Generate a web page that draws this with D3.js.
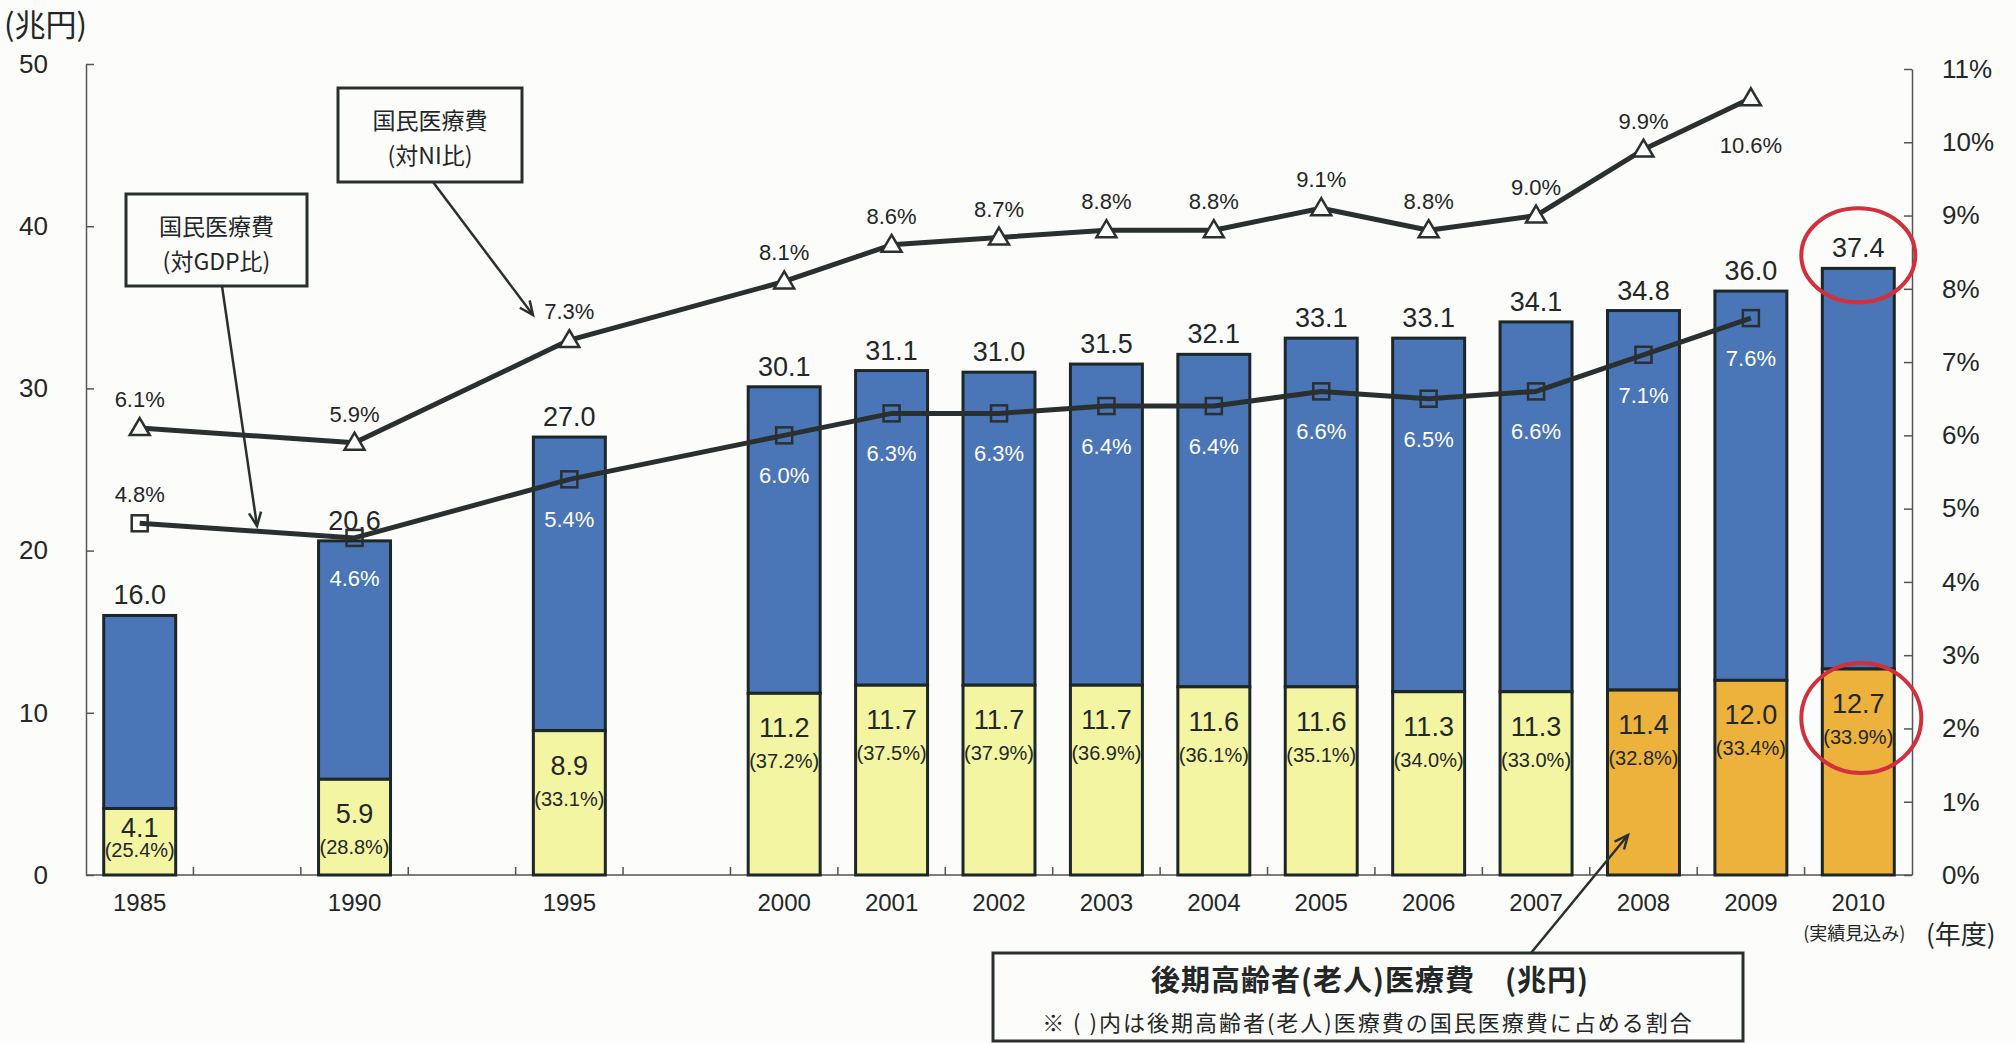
<!DOCTYPE html>
<html><head><meta charset="utf-8">
<script src="https://cdn.jsdelivr.net/npm/d3@7"></script>
<style>
html,body{margin:0;padding:0;background:#fcfcfa;}
svg{display:block;}
</style></head><body>
<svg id="chart" width="2016" height="1043"></svg>
<script>
// ---------------- data ----------------
const years = ["1985","1990","1995","2000","2001","2002","2003","2004","2005","2006","2007","2008","2009","2010"];
const totalCost   = [16.0,20.6,27.0,30.1,31.1,31.0,31.5,32.1,33.1,33.1,34.1,34.8,36.0,37.4];   // 国民医療費 (兆円)
const elderlyCost = [4.1,5.9,8.9,11.2,11.7,11.7,11.7,11.6,11.6,11.3,11.3,11.4,12.0,12.7];      // 後期高齢者(老人)医療費 (兆円)
const elderlyShare= [25.4,28.8,33.1,37.2,37.5,37.9,36.9,36.1,35.1,34.0,33.0,32.8,33.4,33.9];   // 割合 (%)
const elderlyScheme = ["老人","老人","老人","老人","老人","老人","老人","老人","老人","老人","老人","後期","後期","後期"];
const ratioGDP = [4.8,4.6,5.4,6.0,6.3,6.3,6.4,6.4,6.6,6.5,6.6,7.1,7.6,null];   // 対GDP比 (%)
const ratioNI  = [6.1,5.9,7.3,8.1,8.6,8.7,8.8,8.8,9.1,8.8,9.0,9.9,10.6,null];  // 対NI比 (%)
const leftTicks  = [0,10,20,30,40,50];
const rightTicks = [0,1,2,3,4,5,6,7,8,9,10,11];

// ---------------- setup ----------------
const FONT = '"Liberation Sans","Noto Sans CJK JP",sans-serif';
const CJK = '"Noto Sans CJK JP",sans-serif';
const INK = "#232727";
const svg = d3.select("#chart").attr("font-family", FONT);
svg.append("rect").attr("width",2016).attr("height",1043).attr("fill","#fcfcfa");

// slots: a blank slot after each year before 2000
const slots = [];
years.forEach(y => { slots.push(y); if (+y < 2000) slots.push("gap" + y); });

const plotL = 86, plotR = 1912, baseY = 875;
const x = d3.scaleBand().domain(slots).range([plotL, plotR]).paddingInner(0.33).paddingOuter(0.165);
const yL = d3.scaleLinear().domain([0,50]).range([baseY, 64]);
const yR = d3.scaleLinear().domain([0,11]).range([baseY, 69]);
const cx = y => x(y) + x.bandwidth()/2;

const rows = years.map((y,i) => ({year:y, total:totalCost[i], eld:elderlyCost[i], share:elderlyShare[i],
  scheme:elderlyScheme[i], gdp:ratioGDP[i], ni:ratioNI[i]}));

// ---------------- axes ----------------
const gL = svg.append("g").attr("transform",`translate(${plotL},0)`)
  .call(d3.axisLeft(yL).tickValues(leftTicks).tickSizeInner(-8).tickSizeOuter(0).tickPadding(38));
gL.attr("font-family", FONT).attr("font-size", 26);
gL.selectAll("text").attr("fill", INK);
gL.selectAll("line,path").attr("stroke","#555").attr("stroke-width",1.5);

const gR = svg.append("g").attr("transform",`translate(${plotR},0)`)
  .call(d3.axisRight(yR).tickValues(rightTicks).tickFormat(d => d + "%").tickSizeInner(-8).tickSizeOuter(0).tickPadding(30));
gR.attr("font-family", FONT).attr("font-size", 26);
gR.selectAll("text").attr("fill", INK);
gR.selectAll("line,path").attr("stroke","#555").attr("stroke-width",1.5);

// x axis baseline + boundary ticks
svg.append("line").attr("x1",plotL).attr("x2",plotR).attr("y1",baseY).attr("y2",baseY)
  .attr("stroke","#555").attr("stroke-width",1.5);
svg.append("g").selectAll("line").data(d3.range(1, slots.length)).join("line")
  .attr("x1", i => plotL + i*x.step()).attr("x2", i => plotL + i*x.step())
  .attr("y1", baseY).attr("y2", baseY-8).attr("stroke","#555").attr("stroke-width",1.5);

const gX = svg.append("g").attr("transform",`translate(0,${baseY})`)
  .call(d3.axisBottom(x).tickValues(years).tickSize(0).tickPadding(19));
gX.attr("font-family", FONT).attr("font-size", 24);
gX.select(".domain").remove();
gX.selectAll("text").attr("fill", INK);

svg.append("text").attr("x", cx("2010")-4).attr("y", 940).attr("text-anchor","middle")
  .attr("font-family", CJK).attr("font-size",18).attr("fill",INK).text("(実績見込み)");
svg.append("text").attr("x", 1926).attr("y", 944)
  .attr("font-family", CJK).attr("font-size",26).attr("fill",INK).text("(年度)");
svg.append("text").attr("x", 4).attr("y", 36)
  .attr("font-family", CJK).attr("font-size",31).attr("fill",INK).text("(兆円)");

// ---------------- bars ----------------
const colors = {"老人":"#f3f5a2", "後期":"#ecb23c"};
const BLUE = "#4a75b6", EDGE = "#1d2727";
const gBars = svg.append("g");
gBars.selectAll("rect.top").data(rows).join("rect").attr("class","top")
  .attr("x", d => x(d.year)).attr("width", x.bandwidth())
  .attr("y", d => yL(d.total)).attr("height", d => yL(d.eld) - yL(d.total))
  .attr("fill", BLUE).attr("stroke", EDGE).attr("stroke-width", 3);
gBars.selectAll("rect.bot").data(rows).join("rect").attr("class","bot")
  .attr("x", d => x(d.year)).attr("width", x.bandwidth())
  .attr("y", d => yL(d.eld)).attr("height", d => baseY - yL(d.eld))
  .attr("fill", d => colors[d.scheme]).attr("stroke", EDGE).attr("stroke-width", 3);

// total labels
svg.append("g").selectAll("text").data(rows).join("text")
  .attr("x", d => cx(d.year)).attr("y", d => yL(d.total) - 11)
  .attr("text-anchor","middle").attr("font-size",27).attr("fill",INK)
  .text(d => d.total.toFixed(1));

// elderly value & share labels
const valY = d => { let v = yL(d.eld) + 44; let s = v + 31; if (s > 857) { s = 857; v = Math.min(v, 837); } return {v, s}; };
svg.append("g").selectAll("text").data(rows).join("text")
  .attr("x", d => cx(d.year)).attr("y", d => valY(d).v)
  .attr("text-anchor","middle").attr("font-size",27).attr("fill",INK)
  .text(d => d.eld.toFixed(1));
svg.append("g").selectAll("text").data(rows).join("text")
  .attr("x", d => cx(d.year)).attr("y", d => valY(d).s)
  .attr("text-anchor","middle").attr("font-size",20).attr("fill",INK)
  .text(d => "(" + d.share.toFixed(1) + "%)");

// ---------------- lines ----------------
const LINE = "#2a3030";
const gdpPts = rows.filter(d => d.gdp != null);
const niPts  = rows.filter(d => d.ni != null);
svg.append("path").datum(gdpPts)
  .attr("d", d3.line().x(d => cx(d.year)).y(d => yR(d.gdp)))
  .attr("fill","none").attr("stroke",LINE).attr("stroke-width",5).attr("stroke-linejoin","round");
svg.append("path").datum(niPts)
  .attr("d", d3.line().x(d => cx(d.year)).y(d => yR(d.ni)))
  .attr("fill","none").attr("stroke",LINE).attr("stroke-width",5).attr("stroke-linejoin","round");

svg.append("g").selectAll("rect").data(gdpPts).join("rect")
  .attr("x", d => cx(d.year)-8).attr("y", d => yR(d.gdp)-8).attr("width",16).attr("height",16)
  .attr("fill","none").attr("stroke",LINE).attr("stroke-width",2.5);
svg.append("g").selectAll("path").data(niPts).join("path")
  .attr("transform", d => `translate(${cx(d.year)},${yR(d.ni)})`)
  .attr("d","M0,-10L10,7L-10,7Z")
  .attr("fill","#fcfcfa").attr("stroke",LINE).attr("stroke-width",2.5);

// line labels
svg.append("g").selectAll("text").data(gdpPts).join("text")
  .attr("x", d => cx(d.year)).attr("y", (d,i) => i === 0 ? yR(d.gdp) - 21 : yR(d.gdp) + 48)
  .attr("text-anchor","middle").attr("font-size",22)
  .attr("fill", (d,i) => i === 0 ? INK : "#ffffff")
  .text(d => d.gdp.toFixed(1) + "%");
svg.append("g").selectAll("text").data(niPts).join("text")
  .attr("x", d => cx(d.year)).attr("y", d => d.year === "2009" ? yR(d.ni) + 55 : yR(d.ni) - 21)
  .attr("text-anchor","middle").attr("font-size",22).attr("fill",INK)
  .text(d => d.ni.toFixed(1) + "%");

// ---------------- annotations ----------------
function arrow(x1,y1,x2,y2){
  const g = svg.append("g").attr("stroke",LINE).attr("stroke-width",2.5).attr("fill","none");
  g.append("line").attr("x1",x1).attr("y1",y1).attr("x2",x2).attr("y2",y2);
  const a = Math.atan2(y2-y1, x2-x1), L = 15, s = 0.42;
  g.append("path").attr("d",
    `M${x2 - L*Math.cos(a-s)},${y2 - L*Math.sin(a-s)}L${x2},${y2}L${x2 - L*Math.cos(a+s)},${y2 - L*Math.sin(a+s)}`);
}
function box(x0,y0,w,h,lines){
  svg.append("rect").attr("x",x0).attr("y",y0).attr("width",w).attr("height",h)
    .attr("fill","#fcfcfa").attr("stroke",LINE).attr("stroke-width",3);
  lines.forEach((t,i) => svg.append("text").attr("x", x0 + w/2).attr("y", y0 + 41 + i*35)
    .attr("text-anchor","middle").attr("font-family",CJK).attr("font-size",23).attr("fill",INK).text(t));
}
arrow(433,182,533,315);
box(338,88,184,94,["国民医療費","(対NI比)"]);
arrow(222,286,257,526);
box(126,194,181,92,["国民医療費","(対GDP比)"]);

// legend box
arrow(1531,953,1628,835);
svg.append("rect").attr("x",993).attr("y",953).attr("width",750).attr("height",88)
  .attr("fill","#fcfcfa").attr("stroke",LINE).attr("stroke-width",3);
svg.append("text").attr("x",1370).attr("y",991).attr("text-anchor","middle")
  .attr("font-family",CJK).attr("font-size",29).attr("font-weight","bold").attr("letter-spacing",1).attr("fill",INK)
  .text("後期高齢者(老人)医療費\u3000(兆円)");
svg.append("text").attr("x",1368).attr("y",1031).attr("text-anchor","middle")
  .attr("font-family",CJK).attr("font-size",22).attr("letter-spacing",2).attr("fill",INK)
  .text("※ ( )内は後期高齢者(老人)医療費の国民医療費に占める割合");

// red circles around 2010 values
const last = rows[rows.length-1];
svg.append("ellipse").attr("cx", cx(last.year)).attr("cy", yL(last.total) - 13).attr("rx",57).attr("ry",47)
  .attr("fill","none").attr("stroke","#d2303d").attr("stroke-width",4);
svg.append("ellipse").attr("cx", cx(last.year)+3).attr("cy", valY(last).v + 5).attr("rx",60).attr("ry",55)
  .attr("fill","none").attr("stroke","#d2303d").attr("stroke-width",4);
</script>
</body></html>
